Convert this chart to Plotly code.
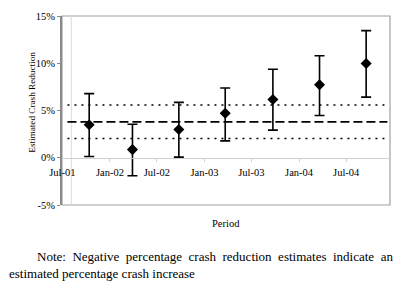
import plotly.graph_objects as go

# ---- data ----
periods = ["2001-10-13", "2002-03-29", "2002-09-24", "2003-03-22",
           "2003-09-22", "2004-03-20", "2004-09-16"]
estimate = [3.50, 0.86, 2.98, 4.70, 6.17, 7.72, 9.98]
upper_ci = [6.79, 3.54, 5.86, 7.38, 9.36, 10.80, 13.45]
lower_ci = [0.14, -1.91, 0.07, 1.79, 2.92, 4.47, 6.42]

overall_mean = 3.80
overall_upper = 5.58
overall_lower = 2.03
ref_line_dates = ["2001-07-21", "2004-12-07"]

y_tick_vals = [-5, 0, 5, 10, 15]
y_tick_text = ["-5%", "0%", "5%", "10%", "15%"]

x_title = "Period"
y_title = "Estimated Crash Reduction"
note_line1 = "Note: Negative percentage crash reduction estimates indicate an"
note_line2 = "estimated percentage crash increase"

# ---- layout geometry (page pixels, page has an 8px body margin) ----
OFF = 8
W, H = 396, 278
L, T = 62 - OFF, 11 - OFF
pw, ph = 328, 194
R = W - L - pw
B = H - T - ph


def px_x(x):
    return (x - OFF - L) / pw


def px_y(y):
    return (T + ph - (y - OFF)) / ph


serif = "Liberation Serif, Times New Roman, serif"

fig = go.Figure()

# reference lines
for val, dash in [(overall_upper, "2px,5px"), (overall_mean, "9px,4px"),
                  (overall_lower, "2px,5px")]:
    fig.add_trace(go.Scatter(
        x=ref_line_dates, y=[val, val], mode="lines",
        line=dict(color="black", width=1.6, dash=dash),
        hoverinfo="skip", showlegend=False))

err_plus = [u - e for u, e in zip(upper_ci, estimate)]
err_minus = [e - l for e, l in zip(estimate, lower_ci)]

fig.add_trace(go.Scatter(
    x=periods, y=estimate, mode="markers",
    marker=dict(symbol="diamond", size=8.5, color="black"),
    error_y=dict(type="data", symmetric=False, array=err_plus,
                 arrayminus=err_minus, color="black", thickness=1.6, width=5),
    showlegend=False))

fig.update_layout(
    width=W, height=H,
    margin=dict(l=L, r=R, t=T, b=B, pad=0),
    paper_bgcolor="white", plot_bgcolor="white",
    font=dict(family=serif, size=10.5, color="black"),
    xaxis=dict(
        type="date", range=["2001-06-30", "2004-12-17"],
        tick0="2001-07-01", dtick="M6", tickformat="%b-%y",
        anchor="free", position=0.25,
        showline=True, linecolor="#d0d0d0", linewidth=1,
        ticks="outside", ticklen=3, tickcolor="#d0d0d0",
        ticklabelstandoff=2, ticklabeloverflow="allow",
        showgrid=False, zeroline=False,
        tickfont=dict(family=serif, size=10.5, color="black"),
    ),
    yaxis=dict(
        range=[-5, 15], tickvals=y_tick_vals, ticktext=y_tick_text,
        showline=True, linecolor="#8a8a8a", linewidth=2,
        ticks="outside", ticklen=3, tickcolor="#8a8a8a",
        ticklabeloverflow="allow",
        showgrid=False, zeroline=False,
        tickfont=dict(family=serif, size=10.5, color="black"),
    ),
)

# frame around plot area
fig.add_shape(type="rect", xref="paper", yref="paper", x0=0, x1=1, y0=0, y1=1,
              line=dict(color="#a0a0a0", width=1.2), layer="below")
# faint vertical line near the start of the time axis
fig.add_shape(type="line", xref="x", yref="paper",
              x0="2001-08-05", x1="2001-08-05", y0=0, y1=1,
              line=dict(color="#dddddd", width=1), layer="below")

fig.add_annotation(text=y_title, xref="paper", yref="paper",
                   x=px_x(32), y=px_y(100), textangle=-90, showarrow=False,
                   xanchor="center", yanchor="middle",
                   font=dict(family=serif, size=9.2))
fig.add_annotation(text=x_title, xref="paper", yref="paper",
                   x=px_x(226), y=px_y(224), showarrow=False,
                   xanchor="center", yanchor="middle",
                   font=dict(family=serif, size=10.5))
fig.add_annotation(text=note_line1.replace(" ", " \u00a0"), xref="paper", yref="paper",
                   x=px_x(35), y=px_y(258), showarrow=False,
                   xanchor="left", yanchor="middle",
                   font=dict(family=serif, size=13))
fig.add_annotation(text=note_line2, xref="paper", yref="paper",
                   x=px_x(7), y=px_y(275), showarrow=False,
                   xanchor="left", yanchor="middle",
                   font=dict(family=serif, size=13))

fig.write_html("out.html")
